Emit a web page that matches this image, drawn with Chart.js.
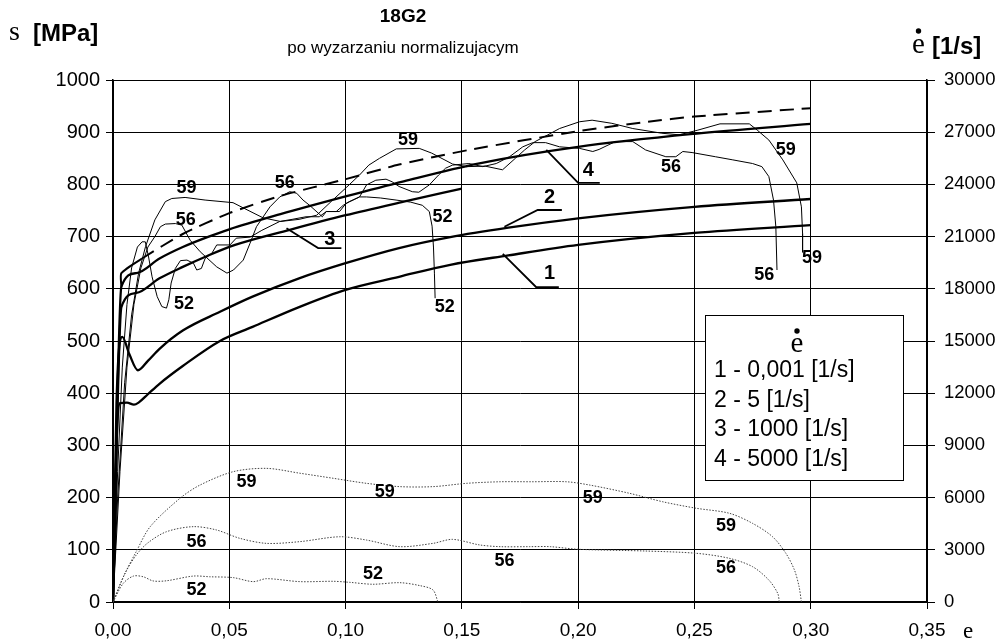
<!DOCTYPE html>
<html><head><meta charset="utf-8">
<script src="https://cdn.jsdelivr.net/npm/chart.js@4/dist/chart.umd.min.js"></script>
<style>html,body{margin:0;padding:0;background:#fff;overflow:hidden}canvas{display:block}</style>
</head><body>
<canvas id="c" width="1003" height="643"></canvas>
<script>
// ---------- tick labels ----------
const xTickValues = [0, 0.05, 0.10, 0.15, 0.20, 0.25, 0.30, 0.35];
const xTickLabels = ['0,00','0,05','0,10','0,15','0,20','0,25','0,30','0,35'];
const stressTicks = [0,100,200,300,400,500,600,700,800,900,1000];
const rateTicks = [0,3000,6000,9000,12000,15000,18000,21000,24000,27000,30000];

// ---------- model curves (stress, MPa) ----------
const strain1 = [0, 0.0015, 0.003, 0.006, 0.009, 0.011, 0.015, 0.02, 0.03, 0.046, 0.06, 0.08, 0.1, 0.123, 0.145, 0.17, 0.2, 0.25, 0.3];
const stress1 = [0, 300, 381, 382, 378, 382, 398, 418, 452, 500, 527, 565, 598, 623, 646, 664, 684, 707, 722];
const strain2 = [0, 0.0015, 0.004, 0.007, 0.0107, 0.015, 0.02, 0.03, 0.046, 0.06, 0.08, 0.1, 0.123, 0.145, 0.17, 0.2, 0.25, 0.3];
const stress2 = [0, 380, 508, 475, 444, 462, 485, 520, 556, 585, 620, 649, 678, 699, 717, 735, 757, 772];
const strain3 = [0, 0.0036, 0.01, 0.02, 0.03, 0.04, 0.0525, 0.076, 0.1, 0.125, 0.15];
const stress3 = [0, 565, 592, 620, 642, 662, 684, 713, 741, 767, 792];
const strain4 = [0, 0.0036, 0.01, 0.02, 0.03, 0.04, 0.05, 0.072, 0.1, 0.125, 0.157, 0.2, 0.25, 0.3];
const stress4 = [0, 604, 630, 658, 680, 698, 714, 743, 777, 806, 840, 872, 897, 916];
const strainD = [0.0036, 0.0036, 0.0125, 0.03, 0.05, 0.072, 0.1, 0.123, 0.153, 0.2, 0.23, 0.25, 0.3];
const stressD = [604, 630, 658, 705, 745, 778, 810, 838, 866, 902, 920, 930, 946];

// ---------- experimental stress curves (MPa) ----------
const strain52 = [0, 0.002, 0.004, 0.006, 0.008, 0.0105, 0.0125, 0.0139, 0.0153, 0.0168, 0.019, 0.021, 0.023, 0.024, 0.025, 0.0268, 0.029, 0.0318, 0.0346, 0.036, 0.038, 0.0396, 0.0425, 0.0446, 0.0503, 0.053, 0.059, 0.064, 0.0717, 0.077, 0.083, 0.0887, 0.0917, 0.0974, 0.1003, 0.106, 0.109, 0.115, 0.1217, 0.128, 0.133, 0.136, 0.1372, 0.1378, 0.1382, 0.1385];
const stress52 = [0, 250, 450, 570, 640, 680, 690, 690, 661, 623, 585, 566, 563, 579, 611, 639, 654, 655, 649, 636, 639, 658, 668, 684, 684, 697, 699, 712, 729, 733, 738, 738, 748, 748, 764, 776, 776, 774, 770, 766, 760, 748, 720, 680, 630, 582];
const strain56 = [0, 0.003, 0.006, 0.009, 0.012, 0.015, 0.018, 0.0204, 0.0225, 0.0268, 0.0296, 0.0332, 0.0375, 0.0446, 0.049, 0.0518, 0.056, 0.0589, 0.0617, 0.0675, 0.0717, 0.076, 0.079, 0.0817, 0.0845, 0.09, 0.0917, 0.096, 0.099, 0.1017, 0.106, 0.109, 0.113, 0.1174, 0.12, 0.123, 0.1287, 0.1315, 0.136, 0.14, 0.143, 0.146, 0.153, 0.159, 0.1648, 0.1705, 0.1762, 0.1805, 0.186, 0.192, 0.2006, 0.2063, 0.209, 0.216, 0.2235, 0.229, 0.2377, 0.242, 0.245, 0.249, 0.259, 0.2665, 0.275, 0.279, 0.282, 0.284, 0.285, 0.2855];
const stress56 = [0, 250, 450, 570, 640, 680, 700, 719, 724, 725, 722, 693, 671, 642, 630, 636, 655, 687, 719, 757, 776, 786, 783, 770, 760, 738, 748, 748, 760, 767, 776, 799, 808, 810, 805, 796, 786, 785, 799, 818, 831, 837, 840, 834, 840, 853, 872, 880, 880, 872, 869, 863, 867, 882, 882, 866, 853, 853, 863, 861, 853, 847, 840, 834, 815, 770, 719, 636];
const strain59 = [0, 0.002, 0.005, 0.008, 0.011, 0.014, 0.018, 0.0225, 0.0253, 0.031, 0.0396, 0.0516, 0.056, 0.0645, 0.072, 0.08, 0.0876, 0.094, 0.1003, 0.106, 0.11, 0.1146, 0.1218, 0.1317, 0.137, 0.146, 0.152, 0.16, 0.1675, 0.173, 0.177, 0.1815, 0.187, 0.192, 0.2006, 0.206, 0.2145, 0.2235, 0.236, 0.2435, 0.2515, 0.261, 0.2736, 0.277, 0.282, 0.288, 0.294, 0.296, 0.2965, 0.2965];
const stress59 = [0, 200, 420, 550, 630, 681, 732, 767, 773, 775, 770, 765, 755, 736, 729, 733, 741, 768, 794, 818, 837, 850, 868, 869, 860, 839, 834, 835, 828, 850, 866, 882, 895, 907, 920, 923, 917, 907, 898, 895, 904, 916, 916, 904, 885, 847, 803, 757, 706, 670];

// ---------- strain rate curves (1/s, right axis) ----------
const rStrain52 = [0, 0.0044, 0.0088, 0.013, 0.0173, 0.023, 0.0345, 0.0416, 0.0517, 0.0603, 0.066, 0.0804, 0.0947, 0.1018, 0.1118, 0.1233, 0.132, 0.1376, 0.1397];
const rate52 = [0, 1070, 1490, 1450, 1210, 1220, 1490, 1450, 1400, 1170, 1340, 1170, 1190, 1130, 1020, 1110, 940, 690, 0];
const rStrain56 = [0, 0.005, 0.01, 0.015, 0.023, 0.0345, 0.0445, 0.0545, 0.066, 0.0804, 0.0975, 0.109, 0.1233, 0.1376, 0.146, 0.1576, 0.1664, 0.179, 0.188, 0.2, 0.229, 0.2507, 0.265, 0.275, 0.282, 0.2858, 0.2865];
const rate56 = [0, 1600, 2700, 3400, 4040, 4330, 4140, 3660, 3370, 3470, 3750, 3560, 3180, 3370, 3600, 3280, 3180, 3180, 3180, 3030, 2930, 2800, 2510, 2030, 1260, 500, 0];
const rStrain59 = [0, 0.005, 0.01, 0.016, 0.0288, 0.0374, 0.0517, 0.066, 0.0804, 0.0947, 0.109, 0.1233, 0.1376, 0.152, 0.1664, 0.18, 0.195, 0.205, 0.222, 0.2364, 0.2507, 0.265, 0.275, 0.2836, 0.2893, 0.293, 0.295, 0.296];
const rate59 = [0, 1600, 2900, 4330, 5960, 6720, 7490, 7680, 7400, 7110, 6820, 6630, 6630, 6820, 6910, 6910, 6910, 6720, 6250, 5760, 5390, 5100, 4520, 3750, 2800, 1840, 880, 0];

// ---------- in-plot labels (data coordinates) ----------
const curveLabels = [
  ['59',0.0316,794],['56',0.0313,732],['52',0.0305,571],['56',0.0739,802],
  ['59',0.1268,885],['52',0.1417,738],['52',0.1426,566],['56',0.2399,834],
  ['59',0.2893,866],['59',0.3006,659],['56',0.28,626],
  ['59',0.0574,230],['59',0.1168,211],['59',0.2063,199],['59',0.2636,146],
  ['56',0.0359,115],['56',0.1683,79],['56',0.2636,65],
  ['52',0.1118,54],['52',0.0359,22]
];
const leaderLabels = [
  {t:'3', tx:0.0932, ty:694, line:[[0.0746,716],[0.0882,678],[0.0982,678]]},
  {t:'4', tx:0.2044, ty:826, line:[[0.1863,866],[0.2,803],[0.2093,803]]},
  {t:'2', tx:0.1877, ty:774, line:[[0.1683,719],[0.1826,751],[0.193,751]]},
  {t:'1', tx:0.1877, ty:630, line:[[0.1676,667],[0.182,603],[0.1917,603]]}
];
const legendTitle = 'e';
const legendLines = ['1 - 0,001 [1/s]','2 - 5 [1/s]','3 - 1000 [1/s]','4 - 5000 [1/s]'];

function pts(xs, ys){ return xs.map((x,i)=>({x:x, y:ys[i]})); }
const SANS = '"Liberation Sans", Arial, sans-serif';
const SERIF = '"Liberation Serif", "Times New Roman", serif';

const modelStyle = {borderColor:'#000', borderWidth:2.3, pointRadius:0, showLine:true, cubicInterpolationMode:'monotone', yAxisID:'y'};
const expStyle = {borderColor:'#000', borderWidth:1, pointRadius:0, showLine:true, tension:0, yAxisID:'y'};
const rateStyle = {borderColor:'#444', borderWidth:1, borderDash:[1.5,1.5], pointRadius:0, showLine:true, tension:0.3, yAxisID:'y2'};

const datasets = [
  Object.assign({label:'rate 52', data:pts(rStrain52, rate52)}, rateStyle),
  Object.assign({label:'rate 56', data:pts(rStrain56, rate56)}, rateStyle),
  Object.assign({label:'rate 59', data:pts(rStrain59, rate59)}, rateStyle),
  Object.assign({label:'52', data:pts(strain52, stress52)}, expStyle),
  Object.assign({label:'56', data:pts(strain56, stress56)}, expStyle),
  Object.assign({label:'59', data:pts(strain59, stress59)}, expStyle),
  Object.assign({label:'1', data:pts(strain1, stress1)}, modelStyle),
  Object.assign({label:'2', data:pts(strain2, stress2)}, modelStyle),
  Object.assign({label:'3', data:pts(strain3, stress3)}, modelStyle),
  Object.assign({label:'4', data:pts(strain4, stress4)}, modelStyle),
  Object.assign({label:'dashed', data:pts(strainD, stressD)}, modelStyle, {
    borderWidth:2, cubicInterpolationMode:'default', tension:0.2,
    segment:{borderDash: c => c.p0DataIndex < 2 ? [] : [14,8]}
  })
];

function setTicks(values){ return function(s){ s.ticks = values.map(v=>({value:v})); }; }

const decor = {
  id:'decor',
  afterDatasetsDraw(chart){
    const ctx = chart.ctx, xs = chart.scales.x, ys = chart.scales.y;
    ctx.save();
    ctx.fillStyle = '#000'; ctx.strokeStyle = '#000';
    ctx.textAlign = 'center'; ctx.textBaseline = 'middle';
    ctx.font = 'bold 18px ' + SANS;
    curveLabels.forEach(([t,x,y]) => ctx.fillText(t, xs.getPixelForValue(x), ys.getPixelForValue(y)));
    ctx.font = 'bold 20px ' + SANS;
    ctx.lineWidth = 1.8;
    leaderLabels.forEach(l => {
      ctx.beginPath();
      l.line.forEach((p,i) => {
        const px = xs.getPixelForValue(p[0]), py = ys.getPixelForValue(p[1]);
        if(i===0) ctx.moveTo(px,py); else ctx.lineTo(px,py);
      });
      ctx.stroke();
      ctx.fillText(l.t, xs.getPixelForValue(l.tx), ys.getPixelForValue(l.ty));
    });
    // legend box
    ctx.fillStyle = '#fff';
    ctx.fillRect(705, 315, 198, 165);
    ctx.lineWidth = 1; ctx.strokeStyle = '#000';
    ctx.strokeRect(705.5, 315.5, 198, 165);
    ctx.fillStyle = '#000';
    ctx.font = '29px ' + SERIF;
    ctx.textAlign = 'center'; ctx.textBaseline = 'alphabetic';
    ctx.fillText(legendTitle, 797, 352);
    ctx.beginPath(); ctx.arc(797, 331, 2.7, 0, Math.PI*2); ctx.fill();
    ctx.font = '23px ' + SANS; ctx.textAlign = 'left';
    legendLines.forEach((t,i) => ctx.fillText(t, 714, 377 + i*29.5));
    ctx.restore();
  },
  afterDraw(chart){
    const ctx = chart.ctx;
    ctx.save();
    ctx.fillStyle = '#000';
    ctx.textBaseline = 'alphabetic';
    ctx.textAlign = 'center';
    ctx.font = 'bold 19px ' + SANS;
    ctx.fillText('18G2', 403, 22);
    ctx.font = '17px ' + SANS;
    ctx.fillText('po wyzarzaniu normalizujacym', 403, 53);
    ctx.textAlign = 'left';
    ctx.font = '28px ' + SERIF;
    ctx.fillText('s', 9, 40);
    ctx.font = 'bold 24px ' + SANS;
    ctx.fillText('[MPa]', 33, 41);
    ctx.font = '29px ' + SERIF;
    ctx.fillText('e', 912, 53);
    ctx.beginPath(); ctx.arc(918.5, 31, 2.7, 0, Math.PI*2); ctx.fill();
    ctx.font = 'bold 24px ' + SANS;
    ctx.fillText('[1/s]', 932, 54);
    ctx.font = '23px ' + SERIF;
    ctx.fillText('e', 963, 638);
    ctx.restore();
  }
};

new Chart(document.getElementById('c'), {
  type:'scatter',
  data:{datasets},
  options:{
    responsive:false, animation:false, devicePixelRatio:1,
    layout:{padding:{top:80, left:0, right:0, bottom:0}},
    plugins:{legend:{display:false}, tooltip:{enabled:false}, title:{display:false}},
    scales:{
      x:{type:'linear', position:'bottom', min:0, max:0.35,
        afterBuildTicks:setTicks(xTickValues),
        afterFit(s){ s.height = 41; },
        grid:{color:'#000', lineWidth:1, tickLength:7},
        border:{color:'#000', width:1.5},
        ticks:{color:'#000', font:{family:SANS, size:19}, padding:10, maxRotation:0, autoSkip:false,
          callback:(v,i)=>xTickLabels[i]}},
      y:{type:'linear', position:'left', min:0, max:1000,
        afterBuildTicks:setTicks(stressTicks),
        afterFit(s){ s.width = 113; },
        grid:{color:'#000', lineWidth:1, tickLength:7},
        border:{color:'#000', width:1.5},
        ticks:{color:'#000', font:{family:SANS, size:20}, padding:6, autoSkip:false,
          callback:(v,i)=>String(stressTicks[i])}},
      y2:{type:'linear', position:'right', min:0, max:30000,
        afterBuildTicks:setTicks(rateTicks),
        afterFit(s){ s.width = 76; },
        grid:{drawOnChartArea:false, color:'#000', lineWidth:1, tickLength:8},
        border:{color:'#000', width:1.5},
        ticks:{color:'#000', font:{family:SANS, size:18.5}, padding:9, autoSkip:false,
          callback:(v,i)=>String(rateTicks[i])}}
    }
  },
  plugins:[decor]
});
</script>
</body></html>
